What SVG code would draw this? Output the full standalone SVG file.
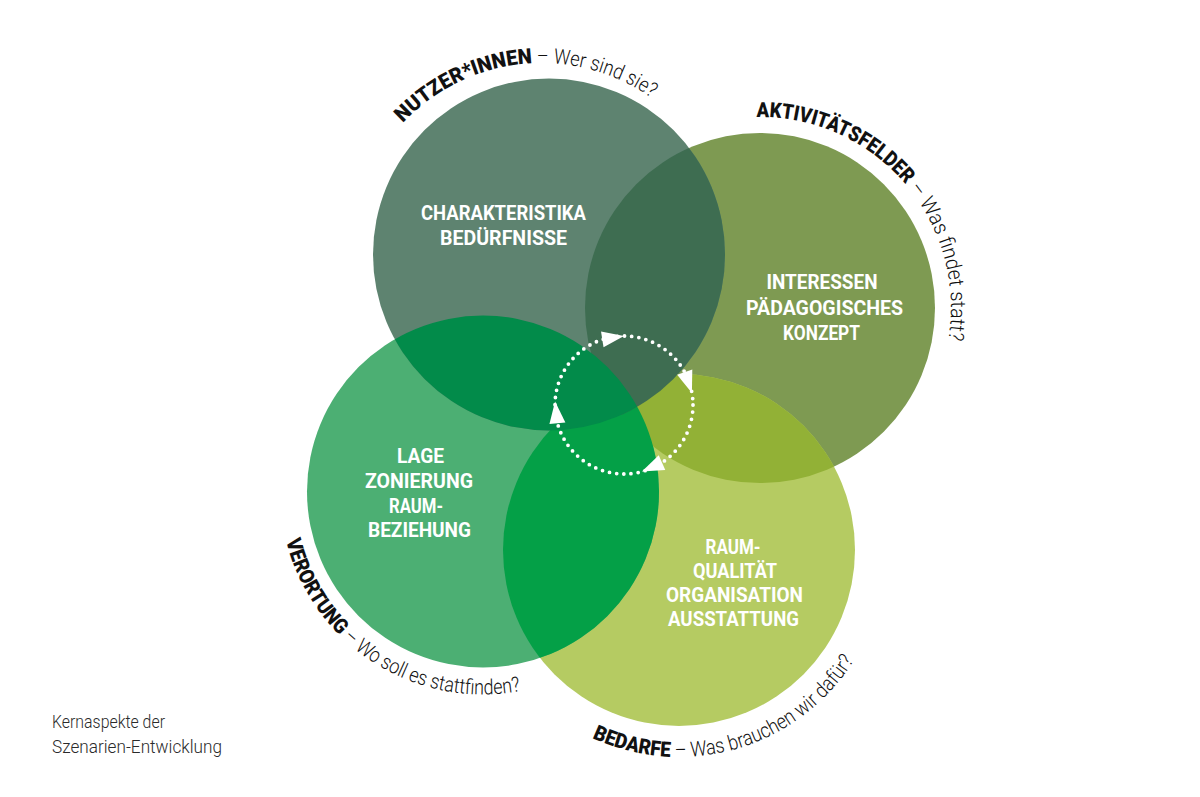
<svg xmlns="http://www.w3.org/2000/svg" width="1200" height="797" viewBox="0 0 1200 797">
<style>
.w{fill:#fff;font-family:Roboto,"Liberation Sans",sans-serif;font-weight:700;font-size:20.5px;text-anchor:middle}
.b{font-family:Roboto,"Liberation Sans",sans-serif;font-weight:900;font-size:21px;fill:#111}
.l{font-family:Roboto,"Liberation Sans",sans-serif;font-weight:300;font-size:21px;fill:#111}
.cap{font-family:Roboto,"Liberation Sans",sans-serif;font-weight:300;font-size:18px;fill:#2a2a2a}
</style>
<defs>
<clipPath id="cT"><circle cx="549" cy="254.5" r="176"/></clipPath>
<clipPath id="cR"><circle cx="760" cy="308" r="175"/></clipPath>
<clipPath id="cL"><circle cx="483" cy="491.5" r="176"/></clipPath>
<clipPath id="cB"><circle cx="679" cy="550" r="176"/></clipPath>
<path id="pT" d="M 403 122.9 A 190 190 0 0 1 706 158"/>
<path id="pR" d="M 756.7 117 A 191 191 0 0 1 925.4 403.5"/>
<path id="pL" d="M 286 540.6 A 203 203 0 0 0 584.5 667.3"/>
<path id="pB" d="M 592.2 737.9 A 207 207 0 0 0 873.5 620.8"/>
<polygon id="arw" points="0,0 -22,-8 -22,8" fill="#fff"/>
</defs>
<rect width="1200" height="797" fill="#fff"/>

<g id="circles">
<circle cx="760" cy="308" r="175" fill="#7e9a52"/>
<circle cx="679" cy="550" r="176" fill="#b5cb62"/>
<circle cx="483" cy="491.5" r="176" fill="#4caf73"/>
<circle cx="549" cy="254.5" r="176" fill="#5e8370"/>
<circle cx="679" cy="550" r="176" fill="#92b136" clip-path="url(#cR)"/>
<circle cx="679" cy="550" r="176" fill="#04a047" clip-path="url(#cL)"/>
<circle cx="760" cy="308" r="175" fill="#3e6d51" clip-path="url(#cT)"/>
<circle cx="483" cy="491.5" r="176" fill="#028b4a" clip-path="url(#cT)"/>
</g>

<g id="node-nutzer">
<text class="w" x="503.5" y="220" textLength="165" lengthAdjust="spacingAndGlyphs">CHARAKTERISTIKA</text>
<text class="w" x="503.5" y="245" textLength="127" lengthAdjust="spacingAndGlyphs">BEDÜRFNISSE</text>
<text><textPath href="#pT"><tspan class="b" textLength="146" lengthAdjust="spacingAndGlyphs">NUTZER*INNEN</tspan><tspan class="l" textLength="126" lengthAdjust="spacingAndGlyphs"> – Wer sind sie?</tspan></textPath></text>
</g>

<g id="node-aktivitaet">
<text class="w" x="822" y="289" textLength="111" lengthAdjust="spacingAndGlyphs">INTERESSEN</text>
<text class="w" x="824.5" y="314.5" textLength="157" lengthAdjust="spacingAndGlyphs">PÄDAGOGISCHES</text>
<text class="w" x="821.5" y="340" textLength="77" lengthAdjust="spacingAndGlyphs">KONZEPT</text>
<text><textPath href="#pR"><tspan class="b" textLength="169" lengthAdjust="spacingAndGlyphs">AKTIVITÄTSFELDER</tspan><tspan class="l" textLength="166" lengthAdjust="spacingAndGlyphs"> – Was findet statt?</tspan></textPath></text>
</g>

<g id="node-verortung">
<text class="w" x="420.5" y="463" textLength="47" lengthAdjust="spacingAndGlyphs">LAGE</text>
<text class="w" x="419" y="488" textLength="108" lengthAdjust="spacingAndGlyphs">ZONIERUNG</text>
<text class="w" x="416" y="512.5" textLength="54" lengthAdjust="spacingAndGlyphs">RAUM-</text>
<text class="w" x="419.5" y="537" textLength="103" lengthAdjust="spacingAndGlyphs">BEZIEHUNG</text>
<text><textPath href="#pL"><tspan class="b" textLength="110" lengthAdjust="spacingAndGlyphs">VERORTUNG</tspan><tspan class="l" textLength="197" lengthAdjust="spacingAndGlyphs"> – Wo soll es stattfinden?</tspan></textPath></text>
</g>

<g id="node-bedarfe">
<text class="w" x="733" y="554" textLength="55" lengthAdjust="spacingAndGlyphs">RAUM-</text>
<text class="w" x="735" y="578" textLength="84" lengthAdjust="spacingAndGlyphs">QUALITÄT</text>
<text class="w" x="734.5" y="602" textLength="137" lengthAdjust="spacingAndGlyphs">ORGANISATION</text>
<text class="w" x="733.5" y="626" textLength="131" lengthAdjust="spacingAndGlyphs">AUSSTATTUNG</text>
<text><textPath href="#pB"><tspan class="b" textLength="81" lengthAdjust="spacingAndGlyphs">BEDARFE</tspan><tspan class="l" textLength="217" lengthAdjust="spacingAndGlyphs"> – Was brauchen wir dafür?</tspan></textPath></text>
</g>

<g id="connectors">
<circle cx="624" cy="405" r="69" fill="none" stroke="#fff" stroke-width="3.8" stroke-linecap="round" stroke-dasharray="0 7.226"/>
<use href="#arw" transform="translate(624 336) rotate(-9)"/>
<use href="#arw" transform="translate(691.9 393) rotate(71)"/>
<use href="#arw" transform="translate(641.9 471.6) rotate(156)"/>
<use href="#arw" transform="translate(555.1 401.4) rotate(264)"/>
</g>

<g id="caption">
<text class="cap" x="52" y="728" textLength="113" lengthAdjust="spacingAndGlyphs">Kernaspekte der</text>
<text class="cap" x="52" y="753" textLength="170" lengthAdjust="spacingAndGlyphs">Szenarien-Entwicklung</text>
</g>
</svg>
